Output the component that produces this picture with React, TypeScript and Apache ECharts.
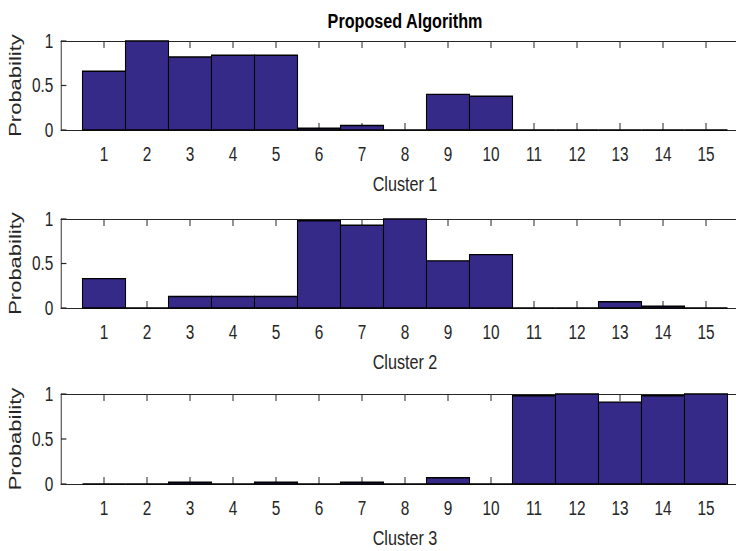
import React, { useEffect, useRef } from "react";
import * as echarts from "echarts";

// ---- data ----
const categories = [1, 2, 3, 4, 5, 6, 7, 8, 9, 10, 11, 12, 13, 14, 15];
const cluster1 = [0.66, 1.0, 0.82, 0.84, 0.84, 0.02, 0.05, 0, 0.4, 0.38, 0, 0, 0, 0, 0];
const cluster2 = [0.33, 0, 0.13, 0.13, 0.13, 0.98, 0.93, 1.0, 0.53, 0.6, 0, 0, 0.07, 0.02, 0];
const cluster3 = [0, 0, 0.02, 0, 0.02, 0, 0.02, 0, 0.07, 0, 0.98, 1.0, 0.91, 0.98, 1.0];
const clusterNames = ["Cluster 1", "Cluster 2", "Cluster 3"];
const yTickValues = [0, 0.5, 1];
const titleText = "Proposed Algorithm";
const yLabel = "Probability";

const SX = 0.77; // horizontal squeeze of the reference picture
const W = 736 / SX;
const H = 551;
const FONT = "'Liberation Sans', Arial, Helvetica, sans-serif";
const AXIS = "#262626";
const BAR = "#352a87";
const TICK_LEN = 7;

export default function App() {
  const ref = useRef<HTMLDivElement>(null);
  useEffect(() => {
    if (!ref.current) return;
    const chart = echarts.init(ref.current, undefined, { renderer: "svg" });
    const series = [cluster1, cluster2, cluster3];
    const gridLeft = 61 / SX;
    const unit = 43 / SX;
    const gridWidth = unit * 16;
    const tops = [41, 219, 394];
    const heights = [89, 89, 90];

    const grids = tops.map((t, i) => ({
      left: gridLeft,
      top: t,
      width: gridWidth,
      height: heights[i],
      containLabel: false,
      outerBoundsMode: "none",
    }));

    const xAxes: any[] = [];
    const yAxes: any[] = [];
    tops.forEach((_, i) => {
      const common = {
        type: "value",
        gridIndex: i,
        min: 0,
        max: 16,
        interval: 1,
        splitLine: { show: false },
        axisLine: { show: true, onZero: false, lineStyle: { color: AXIS, width: 1.2 } },
        axisTick: { show: false },
      };
      xAxes.push({
        ...common,
        position: "bottom",
        name: clusterNames[i],
        nameLocation: "middle",
        nameGap: 43,
        nameTextStyle: { fontFamily: FONT, fontSize: 21, color: AXIS },
        axisLabel: {
          show: true,
          margin: 14,
          fontFamily: FONT,
          fontSize: 20,
          color: AXIS,
          formatter: (v: number) => (categories.indexOf(v) >= 0 ? String(v) : ""),
        },
      });
      xAxes.push({
        ...common,
        position: "top",
        axisLabel: { show: false },
      });
      yAxes.push({
        type: "value",
        gridIndex: i,
        min: 0,
        max: 1,
        interval: 0.5,
        position: "left",
        splitLine: { show: false },
        axisLine: { show: true, onZero: false, lineStyle: { color: AXIS, width: 1.2 } },
        axisTick: { show: false },
        axisLabel: {
          show: true,
          margin: 10,
          fontFamily: FONT,
          fontSize: 20,
          color: AXIS,
          formatter: (v: number) => (yTickValues.indexOf(v) >= 0 ? String(v) : ""),
        },
        name: yLabel,
        nameLocation: "middle",
        nameGap: 46,
        nameRotate: 90,
        nameTextStyle: { fontFamily: FONT, fontSize: 22, color: AXIS },
      });
    });

    // inward tick marks (MATLAB box style), placed through the axes' scales
    const xTickSeries = tops.map((_, i) => ({
      type: "custom",
      xAxisIndex: i * 2,
      yAxisIndex: i,
      data: categories.map((c) => [c]),
      encode: { x: 0 },
      z: 1,
      silent: true,
      renderItem: (params: any, api: any) => {
        const x = api.value(0);
        const b = api.coord([x, 0]);
        const t = api.coord([x, 1]);
        const ls = { stroke: AXIS, lineWidth: 1.3 };
        return {
          type: "group",
          children: [
            { type: "line", shape: { x1: b[0], y1: b[1], x2: b[0], y2: b[1] - TICK_LEN }, style: ls },
            { type: "line", shape: { x1: t[0], y1: t[1], x2: t[0], y2: t[1] + TICK_LEN }, style: ls },
          ],
        };
      },
    }));
    const yTickSeries = tops.map((_, i) => ({
      type: "custom",
      xAxisIndex: i * 2,
      yAxisIndex: i,
      data: yTickValues.map((v) => [0, v]),
      encode: { x: 0, y: 1 },
      z: 1,
      silent: true,
      renderItem: (params: any, api: any) => {
        const p = api.coord([api.value(0), api.value(1)]);
        return {
          type: "line",
          shape: { x1: p[0], y1: p[1], x2: p[0] + TICK_LEN, y2: p[1] },
          style: { stroke: AXIS, lineWidth: 1.2 },
        };
      },
    }));

    const barSeries = series.map((vals, i) => ({
      type: "custom",
      xAxisIndex: i * 2,
      yAxisIndex: i,
      data: categories.map((c, j) => [c, vals[j]]),
      encode: { x: 0, y: 1 },
      clip: false,
      z: 2,
      renderItem: (params: any, api: any) => {
        const x = api.value(0);
        const y = api.value(1);
        const p0 = api.coord([x - 0.5, 0]);
        const p1 = api.coord([x + 0.5, y]);
        return {
          type: "rect",
          shape: { x: p0[0], y: p1[1], width: p1[0] - p0[0], height: p0[1] - p1[1] },
          style: { fill: BAR, stroke: "#000", lineWidth: 1.4 },
        };
      },
    }));

    chart.setOption({
      animation: false,
      backgroundColor: "#fff",
      title: {
        text: titleText,
        left: gridLeft + gridWidth / 2,
        top: 10,
        padding: 0,
        textAlign: "center",
        textStyle: { fontFamily: FONT, fontSize: 21, fontWeight: "bold", color: "#000" },
      },
      grid: grids,
      xAxis: xAxes,
      yAxis: yAxes,
      series: [...xTickSeries, ...yTickSeries, ...barSeries],
    });
    return () => chart.dispose();
  }, []);

  return (
    <div style={{ position: "absolute", left: 0, top: 0, width: 736, height: H, overflow: "hidden", background: "#fff" }}>
      <div
        ref={ref}
        style={{ width: W, height: H, transform: `scaleX(${SX})`, transformOrigin: "0 0" }}
      />
    </div>
  );
}
